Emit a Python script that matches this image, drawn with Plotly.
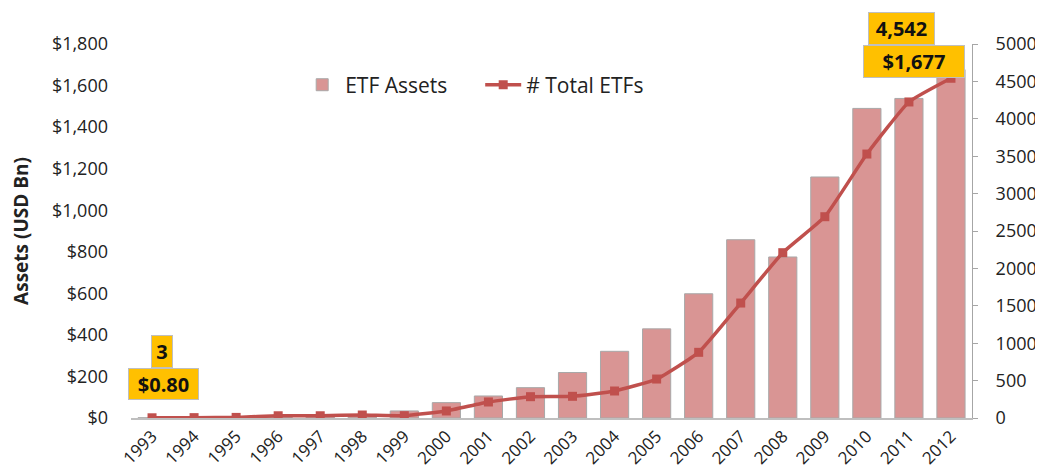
import plotly.graph_objects as go

years = [str(y) for y in range(1993, 2013)]
assets = [0.8, 1, 2, 3, 7, 16, 34, 74, 106, 146, 219, 321, 429, 598, 858, 775, 1160, 1490, 1538, 1677]
num_etfs = [3, 5, 8, 30, 30, 40, 31, 94, 214, 285, 290, 361, 521, 878, 1537, 2210, 2691, 3529, 4225, 4542]

left_ticks = [0, 200, 400, 600, 800, 1000, 1200, 1400, 1600, 1800]
left_labels = ["$0", "$200", "$400", "$600", "$800", "$1,000", "$1,200", "$1,400", "$1,600", "$1,800"]
right_ticks = [0, 500, 1000, 1500, 2000, 2500, 3000, 3500, 4000, 4500, 5000]

FONT = "Open Sans"

fig = go.Figure()
fig.add_trace(go.Bar(
    x=years, y=assets, name="ETF Assets",
    marker=dict(color="#D99594", line=dict(color="#A8A8A8", width=1)),
))
fig.add_trace(go.Scatter(
    x=years, y=num_etfs, name="# Total ETFs", yaxis="y2",
    mode="lines+markers",
    line=dict(color="#C0504D", width=3.5, shape="spline", smoothing=0.4),
    marker=dict(symbol="square", size=9, color="#C0504D"),
))

ann_font = dict(family=FONT, size=20, color="#111111")
boxes = [
    # (category index, text, xshift, yshift, width, height)
    (0, "<b>$0.80</b>", 11.5, 34, 65, 26),
    (0, "<b>" + str(num_etfs[0]) + "</b>", 10, 66.5, 16, 27),
    (19, "<b>$1,677</b>", -37, 356.5, 96, 27),
    (19, "<b>4,542</b>", -49.5, 389.5, 61, 27),
]
for idx, txt, xs, ys, w, h in boxes:
    fig.add_annotation(x=idx, y=0, xref="x", yref="y", text=txt, showarrow=False,
                       bgcolor="#FFC000", bordercolor="#BFBFBF", borderwidth=1, borderpad=2,
                       width=w, height=h, align="center", valign="middle",
                       font=ann_font, xshift=xs, yshift=ys)

# page body has an 8px margin; compensate so the plot lands where the reference has it
fig.update_layout(
    width=1035, height=462,
    margin=dict(l=123, r=71, t=36, b=52, autoexpand=False),
    paper_bgcolor="white", plot_bgcolor="white",
    font=dict(family=FONT, size=18, color="#222222"),
    bargap=0.33,
    showlegend=True,
    legend=dict(orientation="h", x=0.2, y=0.945, xanchor="left", yanchor="top",
                font=dict(family=FONT, size=21, color="#222222"), bgcolor="rgba(0,0,0,0)",
                itemwidth=36, entrywidth=130),
    xaxis=dict(type="category", range=[-0.5, 19.5], tickangle=-45, showgrid=False, showline=True,
               linecolor="#BFBFBF", linewidth=1.5, ticks="", tickfont=dict(size=17),
               automargin=False),
    yaxis=dict(range=[0, 1800], tickvals=left_ticks, ticktext=left_labels, showgrid=False,
               zeroline=False, showline=False, ticks="", ticklabelstandoff=22,
               automargin=False,
               title=dict(text="<b>Assets (USD Bn)</b>", font=dict(size=19), standoff=22)),
    yaxis2=dict(range=[0, 5000], tickvals=right_ticks, overlaying="y", side="right",
                showgrid=False, zeroline=False, showline=True, linecolor="#A6A6A6",
                linewidth=1, ticks="outside", ticklen=5, tickcolor="#A6A6A6",
                ticklabelstandoff=14, automargin=False),
)

fig.write_html("out.html")
